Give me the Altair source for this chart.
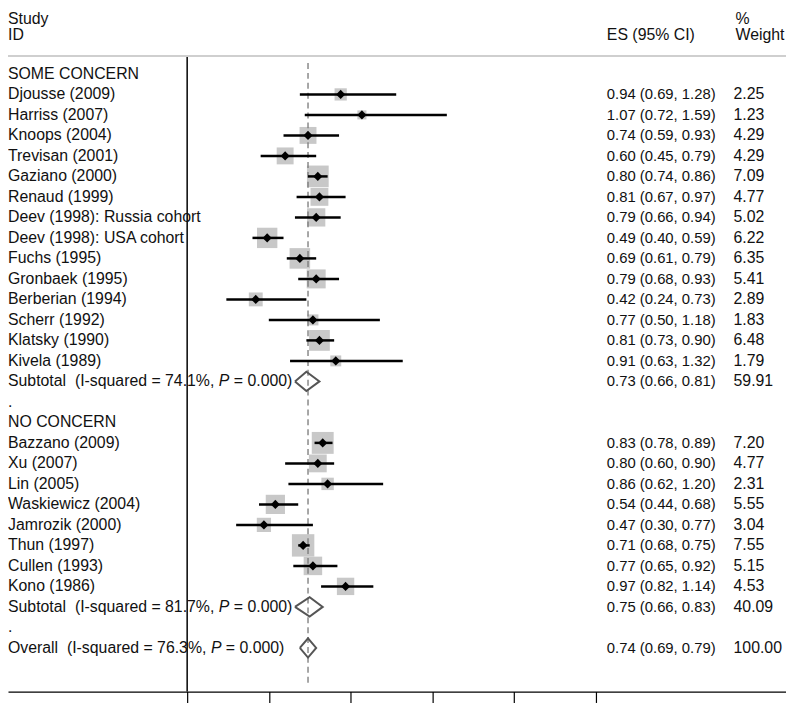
import altair as alt
import pandas as pd

# ---------------- data ----------------
group_names = ["SOME CONCERN", "NO CONCERN"]

g1_study = ["Djousse (2009)", "Harriss (2007)", "Knoops (2004)", "Trevisan (2001)",
            "Gaziano (2000)", "Renaud (1999)", "Deev (1998): Russia cohort",
            "Deev (1998): USA cohort", "Fuchs (1995)", "Gronbaek (1995)",
            "Berberian (1994)", "Scherr (1992)", "Klatsky (1990)", "Kivela (1989)"]
g1_es = [0.94, 1.07, 0.74, 0.60, 0.80, 0.81, 0.79, 0.49, 0.69, 0.79, 0.42, 0.77, 0.81, 0.91]
g1_lo = [0.69, 0.72, 0.59, 0.45, 0.74, 0.67, 0.66, 0.40, 0.61, 0.68, 0.24, 0.50, 0.73, 0.63]
g1_hi = [1.28, 1.59, 0.93, 0.79, 0.86, 0.97, 0.94, 0.59, 0.79, 0.93, 0.73, 1.18, 0.90, 1.32]
g1_wt = [2.25, 1.23, 4.29, 4.29, 7.09, 4.77, 5.02, 6.22, 6.35, 5.41, 2.89, 1.83, 6.48, 1.79]

g2_study = ["Bazzano (2009)", "Xu (2007)", "Lin (2005)", "Waskiewicz (2004)",
            "Jamrozik (2000)", "Thun (1997)", "Cullen (1993)", "Kono (1986)"]
g2_es = [0.83, 0.80, 0.86, 0.54, 0.47, 0.71, 0.77, 0.97]
g2_lo = [0.78, 0.60, 0.62, 0.44, 0.30, 0.68, 0.65, 0.82]
g2_hi = [0.89, 0.90, 1.20, 0.68, 0.77, 0.75, 0.92, 1.14]
g2_wt = [7.20, 4.77, 2.31, 5.55, 3.04, 7.55, 5.15, 4.53]

pooled_name = ["Subtotal", "Subtotal", "Overall"]
pooled_i2 = [74.1, 81.7, 76.3]
pooled_p = ["0.000", "0.000", "0.000"]
pooled_es = [0.73, 0.75, 0.74]
pooled_lo = [0.66, 0.66, 0.69]
pooled_hi = [0.81, 0.83, 0.79]
pooled_wt = [59.91, 40.09, 100.00]

x_ticks = [0, 0.5, 1, 1.5, 2, 2.5]
null_value = [0]

header_top = ["Study", "%"]
header_bottom = ["ID", "ES (95% CI)", "Weight"]

# ---------------- layout (style) ----------------
W, H = 786, 687
X0, PXU = 189 - 8, 165.0
Y0, PXR = 71 - 8, 20.71
xs = alt.Scale(domain=[-X0 / PXU, (W - X0) / PXU], nice=False, zero=False)
ys = alt.Scale(domain=[-Y0 / PXR, (H - Y0) / PXR], reverse=True, nice=False, zero=False)
FS = 16
FONT = "Liberation Sans"
TXT = "#111111"
ES_X, WT_X, HDR_WT_X = 605, 733, 735

# Arial / Liberation Sans advance widths (1/1000 em) for placing the italic P
AW = {' ': 278, '\u00a0': 278, '(': 333, ')': 333, '-': 333, '.': 278, ',': 278,
      '%': 889, '=': 584, 'S': 667, 'I': 278, 'O': 778, 'P': 667, 'a': 556,
      'b': 556, 'd': 556, 'e': 556, 'l': 222, 'o': 556, 'q': 556, 'r': 333,
      's': 500, 't': 278, 'u': 556, 'v': 500}
for c in "0123456789":
    AW[c] = 556


def tw(s):
    return sum(AW.get(c, 556) for c in s) * FS / 1000.0


# ---------------- build tables ----------------
study_rows, text_rows, pooled_rows, diamond_rows, label_parts = [], [], [], [], []
r = 0
groups = [(g1_study, g1_es, g1_lo, g1_hi, g1_wt), (g2_study, g2_es, g2_lo, g2_hi, g2_wt)]
for gi, (st, e, l, h, w) in enumerate(groups):
    text_rows.append({"r": r, "label": group_names[gi], "es_txt": "", "wt_txt": ""})
    r += 1
    for s, ee, ll, hh, ww in zip(st, e, l, h, w):
        study_rows.append({"r": r, "es": ee, "lo": ll, "hi": hh, "wt": ww})
        text_rows.append({"r": r, "label": s, "es_txt": f"{ee:.2f} ({ll:.2f}, {hh:.2f})",
                          "wt_txt": f"{ww:.2f}"})
        r += 1
    pooled_rows.append(r)
    r += 1
    text_rows.append({"r": r, "label": ".", "es_txt": "", "wt_txt": ""})
    r += 1
pooled_rows.append(r)

for k, pr in enumerate(pooled_rows):
    e, l, h = pooled_es[k], pooled_lo[k], pooled_hi[k]
    text_rows.append({"r": pr, "label": "", "es_txt": f"{e:.2f} ({l:.2f}, {h:.2f})",
                      "wt_txt": f"{pooled_wt[k]:.2f}"})
    for o, (vx, dy) in enumerate([(l, 0), (e, -0.47), (h, 0), (e, 0.47), (l, 0)]):
        diamond_rows.append({"id": k, "o": o, "x": vx, "y": pr + dy})
    a = f"{pooled_name[k]}\u00a0\u00a0(I-squared = {pooled_i2[k]:.1f}%, "
    b = "P"
    c = f"= {pooled_p[k]})"
    label_parts.append({"r": pr, "txt": a, "px": 0.0, "it": 0})
    label_parts.append({"r": pr, "txt": b, "px": tw(a), "it": 1})
    label_parts.append({"r": pr, "txt": c, "px": tw(a) + tw("P "), "it": 0})

sdf = pd.DataFrame(study_rows)
tdf = pd.DataFrame(text_rows)
ddf = pd.DataFrame(diamond_rows)
ldf = pd.DataFrame(label_parts)
hdr_top = pd.DataFrame({"txt": header_top, "px": [0, HDR_WT_X]})
hdr_bot = pd.DataFrame({"txt": header_bottom, "px": [0, ES_X, HDR_WT_X]})
nulldf = pd.DataFrame({"x": null_value})
ovdf = pd.DataFrame({"x": [pooled_es[2]]})

Y = alt.Y("r:Q", scale=ys, axis=None)

# top separator
top_rule = alt.Chart(nulldf).mark_rule(color="#cfcfcf", strokeWidth=2).encode(
    x=alt.value(-8), x2=alt.value(W), y=alt.value(45))

# boxes (area proportional to weight) carrying the x axis
boxes = alt.Chart(sdf).mark_square(color="#c8c8c8", opacity=1).encode(
    x=alt.X("es:Q", scale=xs,
            axis=alt.Axis(values=x_ticks, labels=False, tickSize=11, grid=False, title=None,
                          domainColor="black", tickColor="black", domainWidth=1.2,
                          tickWidth=1.2)),
    y=Y,
    size=alt.Size("wt:Q", scale=alt.Scale(type="linear", domain=[0, 10], range=[0, 680]),
                  legend=None),
)

null_line = alt.Chart(nulldf).mark_rule(color="black", strokeWidth=1.5).encode(
    x=alt.X("x:Q", scale=xs), y=alt.value(46), y2=alt.value(H))

overall_line = alt.Chart(ovdf).mark_rule(color="#777777", strokeWidth=1.3,
                                          strokeDash=[6, 4]).encode(
    x=alt.X("x:Q", scale=xs), y=alt.value(52), y2=alt.value(682))

ci = alt.Chart(sdf).mark_rule(color="black", strokeWidth=2.5).encode(
    x=alt.X("lo:Q", scale=xs), x2="hi:Q", y=Y)

pts = alt.Chart(sdf).mark_point(shape="diamond", filled=True, color="black",
                                size=85, opacity=1).encode(
    x=alt.X("es:Q", scale=xs), y=Y)

diamonds = alt.Chart(ddf).mark_line(color="#555555", strokeWidth=2).encode(
    x=alt.X("x:Q", scale=xs), y=alt.Y("y:Q", scale=ys, axis=None),
    detail="id:N", order="o:Q")

labels = alt.Chart(tdf).mark_text(align="left", baseline="middle", font=FONT,
                                  fontSize=FS, color=TXT).encode(
    x=alt.value(0), y=Y, text="label:N")

es_text = alt.Chart(tdf).mark_text(align="left", baseline="middle", font=FONT,
                                   fontSize=15, color=TXT).encode(
    x=alt.value(ES_X), y=Y, text="es_txt:N")

wt_text = alt.Chart(tdf).mark_text(align="left", baseline="middle", font=FONT,
                                   fontSize=FS, color=TXT).encode(
    x=alt.value(WT_X), y=Y, text="wt_txt:N")

pl_norm = alt.Chart(ldf[ldf.it == 0]).mark_text(align="left", baseline="middle", font=FONT,
                                                fontSize=FS, color=TXT).encode(
    x=alt.X("px:Q", scale=None), y=Y, text="txt:N")
pl_ital = alt.Chart(ldf[ldf.it == 1]).mark_text(align="left", baseline="middle", font=FONT,
                                                fontSize=FS, color=TXT,
                                                fontStyle="italic").encode(
    x=alt.X("px:Q", scale=None), y=Y, text="txt:N")

headers_top = alt.Chart(hdr_top).mark_text(align="left", baseline="top", font=FONT,
                                           fontSize=FS, color=TXT).encode(
    x=alt.X("px:Q", scale=None), y=alt.value(0), text="txt:N")
headers_bot = alt.Chart(hdr_bot).mark_text(align="left", baseline="middle", font=FONT,
                                           fontSize=FS, color=TXT).encode(
    x=alt.X("px:Q", scale=None), y=alt.value(24), text="txt:N")

chart = alt.layer(
    top_rule, boxes, null_line, overall_line, ci, pts, diamonds,
    labels, es_text, wt_text, pl_norm, pl_ital, headers_top, headers_bot
).properties(
    width=W, height=H,
    padding={"left": 0, "right": 0, "top": 0, "bottom": 11},
    autosize=alt.AutoSizeParams(type="none"),
    background="white",
).configure_view(stroke=None)

chart.save("out.html", embed_options={"renderer": "svg", "actions": False})
